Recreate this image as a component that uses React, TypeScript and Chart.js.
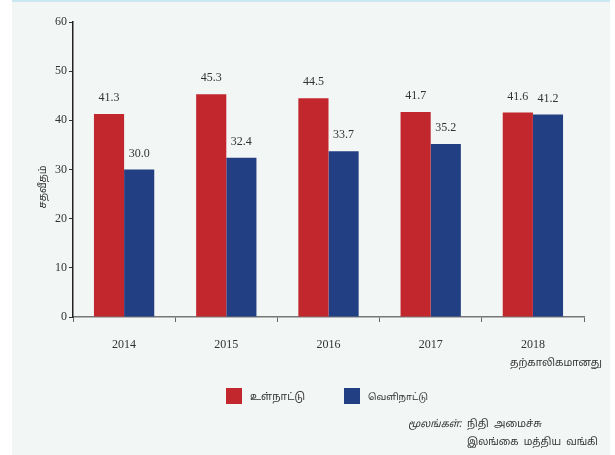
import React, { useEffect, useRef } from "react";
import { Chart, registerables } from "chart.js";

Chart.register(...registerables);

const categories = ["2014", "2015", "2016", "2017", "2018"];
const domestic = [41.3, 45.3, 44.5, 41.7, 41.6];
const foreign = [30.0, 32.4, 33.7, 35.2, 41.2];
const yTicks = [0, 10, 20, 30, 40, 50, 60];
const seriesNames = ["உள்நாட்டு", "வெளிநாட்டு"];
const yTitle = "சதவீதம்";
const provisionalNote = "தற்காலிகமானது";
const sourceLabel = "மூலங்கள்:";
const sourceLine1 = "நிதி  அமைச்சு";
const sourceLine2 = "இலங்கை  மத்திய  வங்கி";

const RED = "#c1272d";
const BLUE = "#233f84";
const SERIF = "'Liberation Serif', 'DejaVu Serif', serif";
const TAMIL = "'Noto Sans', 'Noto Sans Tamil', 'DejaVu Sans', sans-serif";

// draw text scaled so that it spans a given width
function fitText(ctx: any, text: string, x: number, y: number, width: number, style = "") {
  ctx.font = style + "12px " + TAMIL;
  const w = ctx.measureText(text).width;
  const size = Math.max(6, (12 * width) / w);
  ctx.font = style + size.toFixed(2) + "px " + TAMIL;
  ctx.fillText(text, x, y);
}

const decorPlugin = {
  id: "decor",
  beforeDraw(chart: any) {
    const ctx = chart.ctx;
    ctx.save();
    ctx.fillStyle = "#ffffff";
    ctx.fillRect(0, 0, chart.width, chart.height);
    ctx.fillStyle = "#f2f6f5";
    ctx.fillRect(12, 0, 598, chart.height);
    ctx.fillStyle = "#c9e8f2";
    ctx.fillRect(12, 0, 598, 2);
    ctx.restore();
  },
  afterDatasetsDraw(chart: any) {
    const ctx = chart.ctx;
    ctx.save();
    ctx.fillStyle = "#333333";
    ctx.font = "12px " + SERIF;
    ctx.textAlign = "center";
    ctx.textBaseline = "middle";
    chart.data.datasets.forEach((ds: any, i: number) => {
      const meta = chart.getDatasetMeta(i);
      meta.data.forEach((bar: any, j: number) => {
        ctx.fillText(Number(ds.data[j]).toFixed(1), bar.x, bar.y - 16);
      });
    });
    ctx.restore();
  },
  afterDraw(chart: any) {
    const ctx = chart.ctx;
    ctx.save();
    ctx.fillStyle = "#333333";
    ctx.textBaseline = "middle";
    // y title
    ctx.save();
    ctx.translate(43, 187);
    ctx.rotate(-Math.PI / 2);
    ctx.textAlign = "center";
    fitText(ctx, yTitle, 0, 0, 43);
    ctx.restore();
    ctx.textAlign = "left";
    // provisional note
    fitText(ctx, provisionalNote, 510, 363, 92);
    // legend
    const colors = [RED, BLUE];
    const xs = [226, 344];
    const widths = [55, 60];
    for (let i = 0; i < 2; i++) {
      ctx.fillStyle = colors[i];
      ctx.fillRect(xs[i], 388, 16, 16);
      ctx.fillStyle = "#333333";
      fitText(ctx, seriesNames[i], xs[i] + 24, 397, widths[i]);
    }
    // source
    fitText(ctx, sourceLabel, 408, 424, 54, "italic ");
    fitText(ctx, sourceLine1, 467, 424, 75);
    fitText(ctx, sourceLine2, 467, 442, 131);
    ctx.restore();
  },
};

export default function App() {
  const ref = useRef<HTMLCanvasElement>(null);
  useEffect(() => {
    if (!ref.current) return;
    const chart = new Chart(ref.current, {
      type: "bar",
      data: {
        labels: categories,
        datasets: [
          { label: seriesNames[0], data: domestic, backgroundColor: RED, barPercentage: 1, categoryPercentage: 0.59 },
          { label: seriesNames[1], data: foreign, backgroundColor: BLUE, barPercentage: 1, categoryPercentage: 0.59 },
        ],
      },
      options: {
        animation: false,
        responsive: false,
        maintainAspectRatio: false,
        layout: { padding: { left: 0, right: 31, top: 22, bottom: 0 } },
        plugins: { legend: { display: false }, tooltip: { enabled: false } },
        scales: {
          x: {
            offset: true,
            grid: { display: true, drawOnChartArea: false, drawTicks: true, tickLength: 5, color: "#666666", offset: true },
            border: { color: "#777777", width: 1.5 },
            ticks: { color: "#333333", font: { family: SERIF, size: 12 }, padding: 16 },
            afterFit: (s: any) => { s.height = 138; },
          },
          y: {
            min: 0,
            max: 60,
            afterBuildTicks: (s: any) => { s.ticks = yTicks.map((v) => ({ value: v })); },
            grid: { display: true, drawOnChartArea: false, drawTicks: true, tickLength: 4, color: "#333333" },
            border: { color: "#222222", width: 1.5 },
            ticks: { color: "#333333", font: { family: SERIF, size: 12 }, padding: 2 },
            afterFit: (s: any) => { s.width = 73; },
          },
        },
      },
      plugins: [decorPlugin],
    });
    return () => chart.destroy();
  }, []);
  return (
    <div style={{ position: "absolute", left: 0, top: 0, width: 615, height: 455 }}>
      <canvas ref={ref} width={615} height={455} style={{ width: 615, height: 455, display: "block" }} />
    </div>
  );
}
